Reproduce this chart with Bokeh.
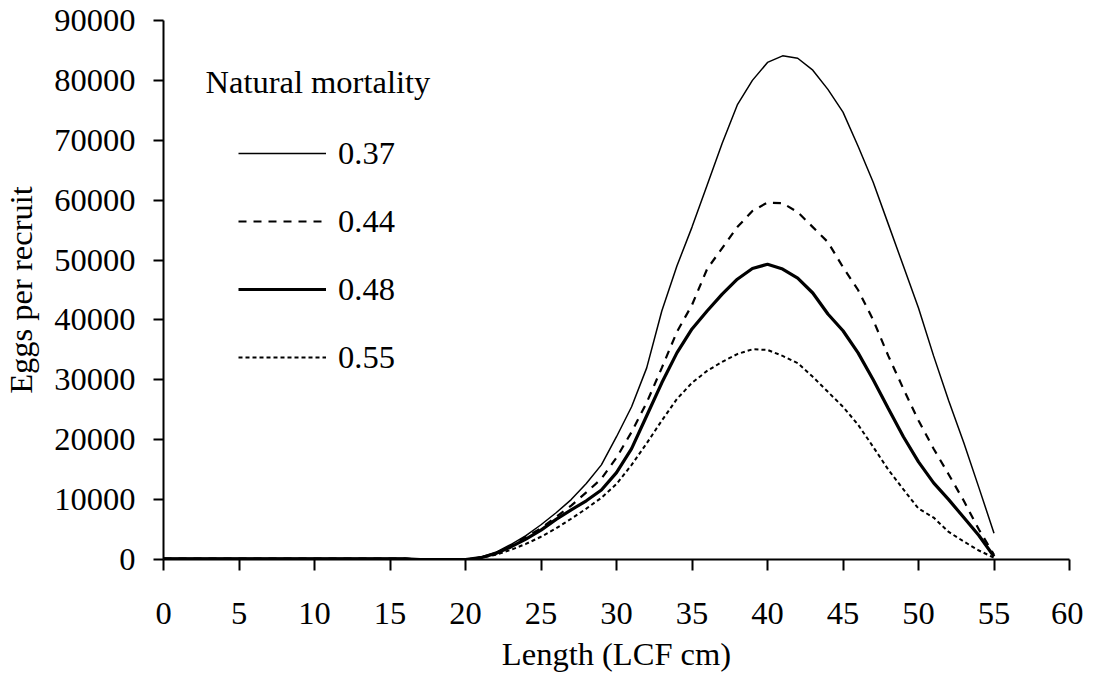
from bokeh.plotting import figure
from bokeh.models import Legend, LegendItem, Label, FixedTicker, Range1d
from bokeh.embed import file_html
from bokeh.resources import INLINE

length_cm = list(range(0, 56))

m037 = [200] * 17 + [0, 0, 0,
        0, 400, 1200, 2500, 4000, 5800, 7800, 10000, 12700, 15800,
        20500, 25500, 32000, 41500, 49000, 55500, 62500, 69500, 75900, 80000,
        83000, 84100, 83700, 81700, 78500, 74700, 69000, 63000, 56000, 49000,
        42000, 34000, 26500, 19500, 12000, 4400]
m044 = [150] * 17 + [0, 0, 0,
        0, 300, 1000, 2200, 3800, 5200, 7100, 9000, 11200, 13500,
        17000, 21300, 26200, 32000, 38000, 42500, 48500, 52000, 55500, 58200,
        59600, 59500, 58000, 55500, 53000, 48800, 45000, 40000, 34000, 28500,
        23200, 18500, 14200, 9800, 5000, 800]
m048 = [120] * 17 + [0, 0, 0,
        0, 300, 1000, 2100, 3400, 4900, 6700, 8300, 9800, 11600,
        14500, 18500, 24000, 29500, 34500, 38500, 41500, 44300, 46800, 48600,
        49300, 48500, 47000, 44500, 41000, 38200, 34500, 30000, 25200, 20500,
        16300, 12800, 10000, 7000, 4000, 500]
m055 = [100] * 17 + [0, 0, 0,
        0, 250, 800, 1600, 2600, 3800, 5200, 6800, 8500, 10300,
        12600, 15800, 19400, 23200, 26800, 29500, 31500, 33000, 34300, 35100,
        35000, 34000, 32800, 30500, 28000, 25500, 22500, 18800, 15000, 11700,
        8500, 7000, 4600, 3000, 1500, 300]

series_labels = ["0.37", "0.44", "0.48", "0.55"]
x_ticks = list(range(0, 61, 5))
y_ticks = list(range(0, 90001, 10000))

FONT = "Liberation Serif"
FS = "32.5px"

p = figure(frame_width=906, frame_height=539, output_backend="svg", toolbar_location=None,
           x_range=Range1d(0, 60), y_range=Range1d(0, 90000),
           min_border_left=159, min_border_right=14, min_border_top=20,
           min_border_bottom=100)
p.outline_line_color = None
p.xgrid.grid_line_color = None
p.ygrid.grid_line_color = None
p.background_fill_color = "white"

r1 = p.line(length_cm, m037, line_color="black", line_width=1.5)
r2 = p.line(length_cm, m044, line_color="black", line_width=2.2, line_dash="8 7")
r3 = p.line(length_cm, m048, line_color="black", line_width=3.2)
r4 = p.line(length_cm, m055, line_color="black", line_width=2, line_dash="4 3")

for ax in (p.xaxis[0], p.yaxis[0]):
    ax.axis_line_color = "black"
    ax.axis_line_width = 2
    ax.major_tick_line_color = "black"
    ax.major_tick_line_width = 2
    ax.major_tick_in = 0
    ax.minor_tick_line_color = None
    ax.major_label_text_font = FONT
    ax.major_label_text_font_size = FS
    ax.major_label_text_color = "black"
    ax.axis_label_text_font = FONT
    ax.axis_label_text_font_size = FS
    ax.axis_label_text_font_style = "normal"
    ax.axis_label_text_color = "black"

p.xaxis.ticker = FixedTicker(ticks=x_ticks)
p.yaxis.ticker = FixedTicker(ticks=y_ticks)
p.xaxis.major_tick_out = 11
p.yaxis.major_tick_out = 10
p.xaxis.major_label_standoff = 32
p.yaxis.major_label_standoff = 18
p.xaxis.axis_label = "Length (LCF cm)"
p.yaxis.axis_label = "Eggs per recruit"
p.xaxis.axis_label_standoff = 9
p.yaxis.axis_label_standoff = 12
p.yaxis.formatter.use_scientific = False

legend = Legend(items=[LegendItem(label=series_labels[0], renderers=[r1]),
                       LegendItem(label=series_labels[1], renderers=[r2]),
                       LegendItem(label=series_labels[2], renderers=[r3]),
                       LegendItem(label=series_labels[3], renderers=[r4])],
                location=(75, 182), orientation="vertical",
                glyph_width=88, glyph_height=40, label_height=40,
                label_standoff=12, spacing=28, padding=0, margin=0,
                border_line_color=None, background_fill_alpha=0,
                label_text_font=FONT, label_text_font_size=FS,
                label_text_color="black")
p.add_layout(legend, "center")

title = Label(x=42, y=478, x_units="screen", y_units="screen",
              text="Natural mortality", text_font=FONT, text_font_size=FS,
              text_baseline="middle", text_color="black")
p.add_layout(title)

open("out.html", "w").write(file_html(p, INLINE))
